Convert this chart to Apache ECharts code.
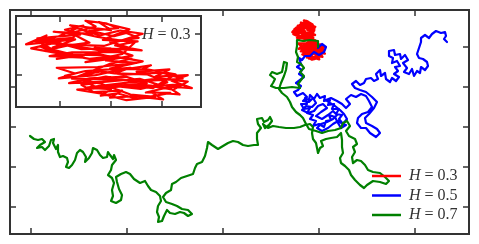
<!DOCTYPE html>
<html>
<head>
<meta charset="utf-8">
<script src="https://cdn.jsdelivr.net/npm/echarts@6/dist/echarts.min.js"></script>
<style>html,body{margin:0;padding:0;background:#fff}#c{width:479px;height:244px}</style>
</head>
<body>
<div id="c"></div>
<script>
// Series names
const seriesNames = ['H = 0.3', 'H = 0.5', 'H = 0.7'];
// Tick positions (no labels shown)
const mainXTicks = [-144, -96, -48, 0, 48];
const mainYTicks = [0, -20, -40, -60, -80];
const insetXTicks = [-10, -5, 0];
const insetYTicks = [10, 0];

// H = 0.3 path
const pathH03 = [
[-9.5,4.5],[-11.9,7.9],[-11.3,9.7],[-13.3,7.5],[-8.5,8.7],[-10.7,6.7],[-7.1,7.9],[-8.9,10.3],[-6.5,11.9],[-7.5,13.3],
[-5.5,12.7],[-4.3,11.5],[-7.1,10.9],[-4.7,9.5],[-3.5,10.3],[-2.3,9.1],[-5.1,8.1],[-3.3,6.7],[-5.9,5.9],[-9.1,7.3],
[-11.5,5.9],[-8.3,4.7],[-10.3,3.9],[-6.5,5.3],[-4.5,4.1],[-7.5,3.1],[-3.9,5.1],[-2.7,7.9],[-6.3,9.3],[-9.5,11.1],
[-7.7,12.1],[-8.7,9.1],[-12.5,8.3],[-9.9,7.5],[-5.7,7.1],[-3.7,8.7],[-1.9,10.1],[-4.1,10.9],[-6.1,9.7],[-8.3,11.5],
[-10.1,9.5],[-11.5,8.7],[-7.9,6.3],[-5.1,6.5],[-2.9,4.7],[-5.5,3.5],[-2.5,2.9],
[-6.3,1.9],[-10.3,1.7],[-8.5,0.3],[-10.1,-0.9],[-6.5,-0.1],[-4.3,1.1],[-1.1,2.3],[-2.5,0.7],[0.7,1.3],[-0.7,-0.5],
[2.5,-0.1],[0.9,-1.5],[2.9,-3.3],[0.5,-2.9],[1.7,-4.9],[-1.1,-4.3],[0.1,-6.1],[-2.7,-5.3],[-5.1,-5.7],[-3.9,-3.9],
[-6.7,-4.3],[-7.9,-2.5],[-5.5,-1.7],[-9.1,-2.1],[-7.1,-0.9],[-3.5,-0.5],[-1.5,-2.1],[-4.3,-2.9],[-2.1,-3.5],[0.5,-1.9],
[-1.5,0.1],[-4.7,0.3],[-3.1,1.7],[-7.5,0.9],[-9.5,-0.3],[-5.9,-2.3],[-3.1,-4.9],[-0.7,-5.5],[-3.5,-6.3],[-5.9,-4.7],
[-8.3,-3.7],[-4.9,-3.1],[-1.7,-2.5],[1.1,-3.7],[2.5,-1.7],[-0.3,-0.9],[-2.7,-1.7],[-5.5,-0.5],[-7.7,-1.5],[-6.3,-3.3],
[-3.5,-2.5],[-0.9,-3.3],[1.3,0.1],[-1.5,1.3],[-5.1,1.5],[-1.9,3.3],[-4.7,4.5],[-7.1,3.9],
[-12.8,6.5],[-9.8,8.3],[-12.2,9.0],[-8.0,9.9],[-10.6,10.6],[-6.8,10.1],[-9.0,12.2],[-5.0,11.0],[-6.2,13.0],[-3.2,11.2],
[-5.8,8.6],[-2.4,8.2],[-4.6,7.2],[-2.0,6.0],[-6.6,6.6],[-4.0,5.6],[-8.8,5.5],[-11.0,4.6],[-7.6,4.2],[-12.0,7.0],
[-10.0,5.0],[-6.0,4.8],[-3.0,4.0],[-5.2,2.6],
[-8.8,-1.0],[-4.0,-1.2],[-6.8,-2.0],[-2.2,-1.0],[-0.2,-2.6],[-3.0,-3.2],[1.8,-2.4],[-1.6,-4.4],[0.8,-4.5],[-2.4,-6.0],
[-4.4,-4.6],[-6.0,-5.2],[-5.0,-3.6],[-7.4,-3.2],[-3.6,-2.0],[-0.8,-1.4],[2.0,-1.0],[0.0,0.5],[-3.8,0.0],[-6.0,0.8],
[-8.0,-0.2]
];

// H = 0.5 path
const pathH05 = [
[-0.5,-0.5],[1.5,1.5],[3.5,0],[2.5,-2.5],[0,-4],[-2.5,-2.5],[-4.5,-4.5],[-7,-4.5],[-8.5,-6.5],[-10,-5.5],
[-9,-8.5],[-11,-10],[-8.5,-11.5],[-10,-13.5],[-7.5,-15],[-9.5,-16.5],[-11.5,-18],[-9,-19.5],[-10.5,-21.5],[-12.5,-22.5],
[-11,-24.5],[-8,-23],[-6,-25],[-8,-27],[-5,-27.5],[-3,-25.5],[-1.5,-28],[-3.5,-30],[-6.5,-29.5],[-8.5,-31.5],
[-5.5,-33],[-2.5,-32],[-0.5,-29.5],[2,-28.5],[4,-30.5],[1,-32.5],[-1.5,-34.5],[1.5,-36],[4.5,-34],[7,-32],
[9,-34],[7,-36],[4,-37.5],[1,-38.5],[-1,-40.5],[1.5,-42],[4.5,-40.5],[7,-38.5],[9.5,-37],[12,-38.5],
[10,-36],[11.5,-34],[8.5,-33.5],[10,-31],[6.5,-31],[7.5,-28.5],[4.5,-29],[5.5,-26.5],[2.5,-27],[3,-24.5],
[0.5,-25.5],[-1,-23.5],[-2.5,-26],[-4.5,-24],[-5,-26.5],[-7,-25.5],[-6,-28.5],[-9,-28.5],[-7.5,-31],[-4.5,-30.5],
[-6,-33],[-3,-34],[-4.5,-36],[-1.5,-37],[-3,-39.5],[0,-38.5],[2.5,-40],[3.5,-37],[6,-36.5],[5,-34],
[8,-35],[9.5,-38],[11,-40.5],[13.5,-39],[12,-38.5],
[14,-36],[12.5,-33.5],[10.5,-31.5],[8,-29.5],[5.5,-28],[3.5,-26.5],[6,-25.5],[9,-27],[11.5,-28.5],[13.5,-30.5],
[15.5,-28.5],[13.5,-26],[16,-24],[18.5,-25],[21,-23.5],[23.5,-24.5],[25,-27],[26.5,-30],[24.5,-32.5],[21.5,-33.5],
[19.5,-35.5],[19,-38],[21,-40.5],[23.5,-40.5],[25.5,-43],[28.5,-45],[30.5,-43],[29,-41],[26.5,-39.5],[23.5,-38],
[23,-35.5],[25,-33.5],[27.5,-30.5],[29,-27.5],[26.5,-25],[23.5,-22.5],[20.5,-21.5],[18,-20.5],[16.5,-18.5],[18.5,-17],
[20.5,-19],[22.5,-18],[23.5,-16],[26,-15.5],[27.5,-17],[29.5,-16],
[28.5,-13.5],[30.5,-11.5],[31,-14.5],[33,-13],[33.5,-16],[35.5,-17.5],[36.5,-15.5],[38.5,-17],[40,-15],[37.5,-13.5],
[39.5,-12],[38,-10],[40.5,-9.5],[39,-7],[36.5,-8],[37,-5.5],[35,-4.5],[35,-2],[37.5,-1.5],[38,-4],
[40.5,-3.5],[41,-6],[43,-4],[44.5,-6.5],[42,-8],[44,-10.5],[42.5,-12.5],[45,-13.5],[46.5,-11],[47.5,-14.5],
[49,-12],[50.5,-13],[51,-10],[53,-11.5],
[54.5,-9.5],[54,-7.5],[52,-6],[50,-5.5],[49,-3.5],[50,-0.5],[51,2.5],[51,4.5],[53,6],[55,4.5],
[56.5,6.5],[58.5,8],[61,7],[63,7.5],[63.5,5.5],[62.5,4],[64,2.5]
];

// H = 0.7 path
const pathH07 = [
[-144.5,-44.5],[-142.5,-46],[-140.5,-46.5],[-138.5,-46],[-137,-47.5],[-139.5,-49],[-141,-50.5],[-138.5,-50],[-137,-51.5],[-135,-49.5],
[-134,-46.5],[-132.5,-46],[-133,-48],[-131.5,-51],[-130.5,-49],[-130.5,-52.5],[-129.5,-55],[-128,-54.5],[-126,-55.5],[-125.5,-57.5],
[-126.5,-60],[-125,-60.5],[-123.5,-59],[-122,-56.5],[-121,-53],[-119.5,-51.5],[-118,-52.5],[-116.5,-55],[-117,-57.5],[-115,-55.5],
[-113.5,-53],[-113,-50.5],[-111,-51.5],[-109.5,-54],[-108,-55.5],[-106,-55],[-105.5,-52.5],[-104.5,-54],[-103,-56],[-102.5,-54],
[-101.5,-56.5],[-103.5,-59],[-104,-61.5],[-105.5,-64],[-103.5,-65.5],[-102.5,-68],[-103.5,-71.5],[-103,-74.5],[-104,-77],[-101.5,-78],
[-99,-76.5],[-98.5,-74],[-100,-71],[-101,-67.5],[-101.5,-65],[-99,-63.5],[-96.5,-62.5],[-94.5,-63.5],[-92.5,-66],[-89.5,-68],
[-87,-67],[-85.5,-69.5],[-84,-71.5],[-81.5,-72.5],[-79.5,-74.5],[-79,-77],[-80.5,-79.5],[-81,-82.5],[-80,-85],[-80.5,-87.5],
[-78.5,-87],[-77.5,-84.5],[-76,-81.5],[-74.5,-83],[-72,-83.5],[-69.5,-82.5],[-67.5,-83],[-65.5,-84.5],[-63.5,-83.5],[-65.5,-81.5],
[-68.5,-81],[-71,-79.5],[-73.5,-78.5],[-76.5,-77.5],[-78,-75],[-76.5,-73],[-74,-71.5],[-73.5,-68.5],[-71.5,-67.5],[-69,-65.5],
[-66,-64.5],[-63,-63.5],[-62,-60.5],[-61,-58.5],[-58.5,-57.5],[-57,-54.5],[-56,-50.5],[-55.5,-47.5],[-53.5,-49],[-50.5,-51],
[-48,-49.5],[-45.5,-48],[-43,-47],[-40.5,-47.5],[-38,-49],[-35.5,-49.5],[-32.5,-49],[-30.5,-49],[-31,-46],[-31,-43],
[-29,-40.5],[-30.5,-38.5],[-31,-36],[-28.5,-35.5],[-27.5,-37.5],[-25.5,-36.5],[-24.5,-35],[-23.5,-37],[-25,-39],[-27,-40.5],
[-28,-38.5],[-25.5,-40.5],[-23,-39.5],[-20,-40],[-16.5,-40.5],[-12.5,-40.5],[-9.5,-40],[-7,-39],[-4.5,-38.5],[-3,-40],
[-3.5,-43],[-3,-46],[-1.5,-48],[-0.5,-53],[0.5,-50.5],[2,-49.5],[1,-47],[3.5,-46],[6,-45.5],[9,-45],
[11,-43],[11.5,-46.5],[11.5,-50],[12,-53],[10.5,-55.5],[11,-58],[13,-59.5],[15,-61.5],[16,-64],[18,-66.5],
[20.5,-69],[22.5,-70.5],[24,-69],[27,-67],[30.5,-67.5],[33.5,-68.5],[35,-67],[33,-65],[30.5,-63],[27,-62.5],
[24.5,-61.5],[23,-59],[21,-57],[19,-56.5],[17,-58],[16.5,-55],[18,-52.5],[17,-50],[19,-48.5],[18,-46],
[15,-44.5],[13.5,-42],[15.5,-39.5],[14,-37],[12,-38],[11,-40.5],[8,-41.5],[4.5,-42],[1.5,-43],[-1.5,-42],
[-5,-41],[-6.5,-38.5],[-8,-35.5],[-9.5,-34],[-11.5,-32.5],[-13.5,-30],[-14.5,-27.5],[-16,-25],[-18.5,-23],[-20,-21],
[-19,-18],[-17.5,-14.5],[-16.5,-11.5],[-16,-8],[-17.5,-7.5],[-18,-10],[-18.5,-12.5],[-21,-13.5],[-23.5,-12.5],[-24.5,-14],
[-22,-16],[-23,-18],[-24,-19.5],[-21.5,-20.5],[-17.5,-20.5],[-13.5,-20],[-9.5,-20.5],[-10.5,-18.5],[-9,-16.5],[-7.5,-14.5],
[-9.5,-12.5],[-7.5,-10.5],[-9,-8.5],[-11,-7.5],[-10.5,-5],[-11.5,-2.5],[-11,0.5],[-11,3.5],[-8,3],[-4.5,3.5],
[-0.5,3],[-0.5,0]
];

const FRAME = '#333';
const SERIF = '"Liberation Serif", "DejaVu Serif", serif';

function ax(grid, pos, min, max, ticks) {
  return {type:'value', gridIndex:grid, position:pos, min:min, max:max,
    axisLine:{show:false, onZero:false}, splitLine:{show:false}, axisLabel:{show:false},
    axisTick:{show:true, inside:true, length:6, lineStyle:{color:FRAME, width:1.5}, customValues:ticks},
    z: grid === 1 ? 6 : 2};
}

const chart = echarts.init(document.getElementById('c'), null, {renderer:'canvas'});
chart.setOption({
  animation:false,
  backgroundColor:'#fff',
  grid:[
    {left:10, top:10, width:459, height:224, show:true, borderColor:FRAME, borderWidth:2, backgroundColor:'#fff', z:0},
    {left:16, top:16, width:185, height:91, show:true, borderColor:FRAME, borderWidth:2, backgroundColor:'#fff', z:4}
  ],
  xAxis:[
    ax(0,'bottom',-154.5,75,mainXTicks), ax(0,'top',-154.5,75,mainXTicks),
    ax(1,'bottom',-14.28,3.79,insetXTicks), ax(1,'top',-14.28,3.79,insetXTicks)
  ],
  yAxis:[
    ax(0,'left',-93.5,18.5,mainYTicks), ax(0,'right',-93.5,18.5,mainYTicks),
    ax(1,'left',-7.98,14.49,insetYTicks), ax(1,'right',-7.98,14.49,insetYTicks)
  ],
  title:{
    text:'{i|H} = 0.3', left:137, top:22, z:8,
    textStyle:{fontFamily:SERIF, fontSize:16, fontWeight:'normal', color:'#333',
      rich:{i:{fontFamily:SERIF, fontSize:16, fontStyle:'italic', color:'#333'}}}
  },
  legend:{
    data:seriesNames, orient:'vertical', left:367, top:163, itemGap:3.5,
    icon:'rect', itemWidth:29, itemHeight:2.5,
    formatter:function(n){ return '{i|H}{r| = ' + n.split('= ')[1] + '}'; },
    textStyle:{fontFamily:SERIF, fontSize:16, color:'#333', lineHeight:16, padding:[0,0,0,3],
      rich:{i:{fontFamily:SERIF, fontSize:16, fontStyle:'italic', color:'#333', lineHeight:16},
            r:{fontFamily:SERIF, fontSize:16, color:'#333', lineHeight:16}}}
  },
  series:[
    {name:seriesNames[0], type:'line', xAxisIndex:0, yAxisIndex:0, data:pathH03, showSymbol:false, symbol:'none',
      color:'#ff0000', lineStyle:{color:'#ff0000', width:2.5, join:'round', cap:'round'}, z:2},
    {name:seriesNames[1], type:'line', xAxisIndex:0, yAxisIndex:0, data:pathH05, showSymbol:false, symbol:'none',
      color:'#0000ff', lineStyle:{color:'#0000ff', width:2.2, join:'round', cap:'round'}, z:2},
    {name:seriesNames[2], type:'line', xAxisIndex:0, yAxisIndex:0, data:pathH07, showSymbol:false, symbol:'none',
      color:'#008000', lineStyle:{color:'#008000', width:2.2, join:'round', cap:'round'}, z:2},
    {name:'inset', type:'line', xAxisIndex:2, yAxisIndex:2, data:pathH03, showSymbol:false, symbol:'none',
      color:'#ff0000', lineStyle:{color:'#ff0000', width:2.2, join:'round', cap:'round'}, z:5}
  ]
});
</script>
</body>
</html>
